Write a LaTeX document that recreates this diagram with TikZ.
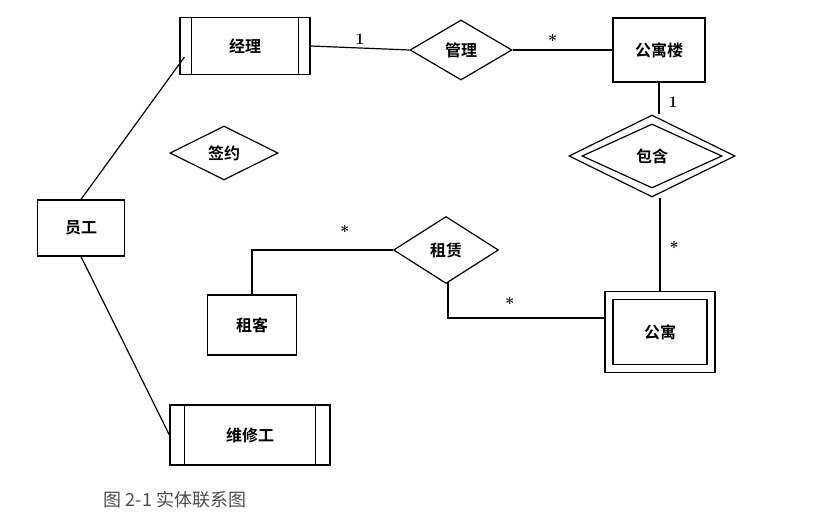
\documentclass[tikz,border=0pt]{standalone}
\usepackage{fontspec}
\newfontfamily\cjk{Noto Sans CJK SC Bold}
\newfontfamily\cjkr{Noto Sans CJK SC}
\usetikzlibrary{shapes.geometric,calc}
\begin{document}
\begin{tikzpicture}[x=1pt,y=-1pt,line width=1.2pt,
  ent/.style={draw,rectangle,font=\cjk\fontsize{16}{16}\selectfont,inner sep=0pt},
  rel/.style={draw,diamond,aspect=1.7,inner sep=0pt,font=\cjk\fontsize{16}{16}\selectfont},
  card/.style={font=\bfseries\fontsize{16}{16}\selectfont}]
\useasboundingbox (0,0) rectangle (831,526);
% entities
\node[ent,minimum width=130,minimum height=57] (jl) at (245,46) {经理};
\draw ($(jl.north west)+(12,0)$) -- ($(jl.south west)+(12,0)$);
\draw ($(jl.north east)+(-12,0)$) -- ($(jl.south east)+(-12,0)$);
\node[ent,minimum width=92,minimum height=64] (gyl) at (659,50) {公寓楼};
\node[ent,minimum width=110,minimum height=81] (gy) at (660,332) {};
\node[ent,minimum width=94,minimum height=65] (gyi) at (660,332) {公寓};
\node[ent,minimum width=89,minimum height=60] (zk) at (252,325) {租客};
\node[ent,minimum width=87,minimum height=56] (yg) at (81,228) {员工};
\node[ent,minimum width=160,minimum height=60] (wx) at (250,435) {维修工};
\draw ($(wx.north west)+(15,0)$) -- ($(wx.south west)+(15,0)$);
\draw ($(wx.north east)+(-15,0)$) -- ($(wx.south east)+(-15,0)$);
% relationships
\node[rel,minimum width=102,minimum height=60] (gl) at (461,50) {管理};
\node[rel,minimum width=166,minimum height=82] (bh) at (652,156) {};
\node[rel,minimum width=140,minimum height=64] (bhi) at (652,156) {包含};
\node[rel,minimum width=105,minimum height=67] (zl) at (446,250) {租赁};
\node[rel,minimum width=108,minimum height=54] (qy) at (224,153) {签约};
% connectors
\draw (yg.north) -- ($(jl.south west)+(5,-18)$);
\draw (yg.south) -- (wx.west);
\draw (jl.east) -- node[card,above,pos=0.5]{1} (gl.west);
\draw (gl.east) -- node[card,above,pos=0.4]{*} (gyl.west);
\draw (gyl.south) -- (gyl.south |- bh.north);
\node[card] at (673,102) {1};
\draw (gy.north |- bh.south) -- (gy.north);
\node[card] at (674,248) {*};
\draw (zl.west) -- (zk.north |- zl.west) -- (zk.north);
\node[card] at (345,232) {*};
\draw (448,282) -- (448,318) -- (gy.west |- 0,318);
\node[card] at (510,304) {*};
\node[font=\cjkr\fontsize{18}{18}\selectfont,text=black!70,anchor=west] at (100,500) {图 2-1 实体联系图};
\end{tikzpicture}
\end{document}
